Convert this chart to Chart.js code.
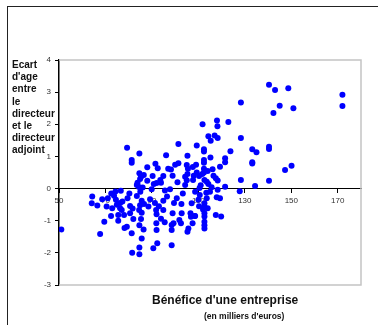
<!DOCTYPE html>
<html>
<head>
<meta charset="utf-8">
<script src="https://cdn.jsdelivr.net/npm/chart.js@4"></script>
<style>
  body { margin: 0; background: #fff; }
  #wrap { position: relative; width: 378px; height: 325px; overflow: hidden; }
  #frame { position: absolute; left: 7px; top: 6px; width: 400px; height: 400px;
           border-left: 1.5px solid #222; border-top: 1.5px solid #222; }
  #chart { position: absolute; left: 0; top: 0; }
  .ytitle { position: absolute; left: 12px; top: 59px; font: bold 10px Arial, "Liberation Sans", sans-serif;
            line-height: 12.2px; color: #111; }
  .xtitle { position: absolute; left: 152px; top: 293px; font: bold 12px Arial, "Liberation Sans", sans-serif; color: #111; }
  .xsub { position: absolute; left: 204px; top: 311px; font: bold 8.5px Arial, "Liberation Sans", sans-serif; color: #111; }
</style>
</head>
<body>
<div id="wrap">
  <div id="frame"></div>
  <canvas id="chart" width="378" height="325"></canvas>
  <div class="ytitle">Ecart<br>d'age<br>entre<br>le<br>directeur<br>et le<br>directeur<br>adjoint</div>
  <div class="xtitle">Bénéfice d'une entreprise</div>
  <div class="xsub">(en milliers d'euros)</div>
</div>
<script>
// Scatter data: profit (k€) vs age gap
const profit = [
  140.4, 143.0, 148.7, 172.0, 172.0, 145.0, 150.9, 142.3, 128.3,
  111.8, 118.0, 118.2, 122.9,
  114.3, 115.3, 117.0, 118.3, 128.3,
  101.4, 109.3, 112.4, 112.4, 123.8, 133.2, 135.0, 140.4, 140.4,
  79.3, 84.6, 81.3, 81.3, 96.1, 105.3, 115.2, 121.5, 121.5, 133.2, 133.2,
  147.3, 150.1,
  88.0, 91.5, 92.5, 98.2, 100.0, 101.4, 105.0, 105.5, 107.6, 109.0, 112.4, 112.4, 112.4, 112.4, 116.1, 119.3,
  84.6, 84.9, 83.8, 85.3, 90.3, 92.0, 93.6, 94.9, 98.9, 104.3, 105.0, 105.3, 107.7, 109.3, 110.3, 111.7,
  112.6, 113.6, 114.3, 115.7, 117.5, 118.3, 121.5, 128.3, 140.4, 134.4, 127.8, 104.3, 93.9, 83.5,
  76.6, 86.0, 89.9, 95.6, 97.8, 108.6, 110.5, 113.4, 118.3, 115.0,
  64.3, 64.1, 68.6, 70.5, 72.5, 73.7, 74.5, 72.9, 76.3, 77.3, 76.3, 77.0, 80.6, 80.6, 72.4, 75.5,
  78.0, 75.5, 69.5, 78.2, 79.2, 81.3, 51.0, 67.7, 81.5, 84.6, 84.6, 85.6, 86.4, 84.6,
  83.5, 85.6, 89.2, 94.9, 99.5, 102.7, 107.1, 81.7, 84.5, 88.5, 91.8, 94.9, 98.9, 101.8, 102.8, 106.8,
  82.0, 85.3, 91.9, 92.0, 93.9, 98.5, 98.5, 105.7, 90.6, 92.3, 98.5, 99.3, 102.5, 105.3, 107.5, 108.4, 106.6,
  112.6, 112.6, 114.0, 112.6, 112.6, 112.6, 112.6, 112.6, 117.5, 119.8, 108.6, 117.9, 119.3, 113.6, 110.6,
  84.4, 85.0, 86.6, 84.9, 85.6, 88.0, 90.8, 91.3, 93.0, 96.5, 100.7, 103.3, 101.0, 97.0, 86.5,
  92.0, 95.5, 110.3, 108.0, 111.0, 114.0, 116.5, 110.0, 112.0, 74.3, 79.5, 80.3, 66.5, 71.0, 74.9
];
const ageGap = [
  3.23, 3.07, 3.12, 2.92, 2.57, 2.58, 2.50, 2.35, 2.68,
  2.00, 2.12, 1.94, 2.07,
  1.63, 1.49, 1.65, 1.57, 1.57,
  1.39, 1.34, 1.22, 1.15, 1.16, 1.22, 1.13, 1.30, 1.23,
  1.27, 1.09, 0.89, 0.80, 1.04, 1.02, 0.97, 0.94, 0.82, 0.82, 0.78,
  0.58, 0.71,
  0.66, 0.77, 0.63, 0.59, 0.74, 0.79, 0.73, 0.62, 0.67, 0.74, 0.89, 0.80, 0.62, 0.50, 0.60, 0.68,
  0.48, 0.30, 0.18, 0.36, 0.39, 0.17, 0.27, 0.39, 0.40, 0.37, 0.26, 0.45, 0.27, 0.50, 0.39, 0.45,
  0.27, 0.21, 0.14, 0.04, 0.32, 0.25, 0.06, 0.27, 0.24, 0.08, -0.08, 0.11, 0.18, 0.11,
  -0.07, 0.03, -0.02, -0.06, -0.02, -0.10, 0.02, -0.13, -0.04, -0.10,
  -0.25, -0.46, -0.33, -0.56, -0.15, -0.22, -0.35, -0.61, -0.45, -0.40, -0.61, -0.67, -0.54, -0.77, -0.85, -0.82,
  -0.82, -1.00, -1.03, -1.23, -1.19, -1.39, -1.27, -1.41, -2.00, -2.04, -1.83, -1.55, -1.27, -1.14,
  -0.23, -0.38, -0.33, -0.38, -0.45, -0.48, -0.46, -0.62, -0.67, -0.56, -0.67, -0.67, -0.77, -0.98, -0.77, -0.88,
  -0.95, -0.95, -1.08, -1.29, -0.94, -1.13, -1.29, -1.24, -1.86, -1.70, -1.76, -1.08, -1.08, -1.34, -1.08, -0.85, -0.77,
  -0.46, -0.56, -0.61, -0.77, -0.87, -1.03, -1.24, -1.14, -0.82, -0.87, -0.85, -0.27, -0.30, -0.30, -0.20,
  0.05, -0.10, -0.48, -0.52, -0.75, 0.24, 0.14, -0.45, -0.55, -0.25, -0.30, -0.15, 0.20, 0.62, 0.42,
  -0.80, -1.05, -0.55, 0.40, 0.10, 0.55, 0.40, -0.35, -0.65, -0.09, -0.30, -0.15, -0.53, -0.30, -0.50
];
const xTicks = [50, 70, 90, 110, 130, 150, 170];
const yTicks = [-3, -2, -1, 0, 1, 2, 3, 4];

const points = profit.map((x, i) => ({ x: x, y: ageGap[i] }));

// light grey frame on top, right and bottom of the plot area
const plotFrame = {
  id: 'plotFrame',
  beforeDatasetsDraw(chart) {
    const { ctx, chartArea: a } = chart;
    ctx.save();
    ctx.strokeStyle = '#c4c4c4';
    ctx.lineWidth = 1.5;
    ctx.beginPath();
    ctx.moveTo(a.left, a.top);
    ctx.lineTo(a.right, a.top);
    ctx.lineTo(a.right, a.bottom);
    ctx.lineTo(a.left, a.bottom);
    ctx.stroke();
    ctx.restore();
  }
};

const tickFont = { family: 'Arial, "Liberation Sans", sans-serif', size: 8 };

new Chart(document.getElementById('chart'), {
  type: 'scatter',
  data: {
    datasets: [{
      data: points,
      backgroundColor: '#0000ff',
      borderWidth: 0,
      pointRadius: 3,
      pointHoverRadius: 3
    }]
  },
  options: {
    responsive: false,
    animation: false,
    layout: { padding: { left: 0, top: 60, right: 17, bottom: 40 } },
    plugins: { legend: { display: false }, tooltip: { enabled: false } },
    scales: {
      x: {
        type: 'linear',
        position: { y: 0 },
        min: 50,
        max: 180,
        afterBuildTicks: axis => { axis.ticks = xTicks.map(v => ({ value: v })); },
        grid: { drawOnChartArea: false, drawTicks: true, tickLength: 4, color: '#000' },
        border: { color: '#000', width: 1 },
        ticks: { font: tickFont, color: '#333', padding: 3, maxRotation: 0 }
      },
      y: {
        type: 'linear',
        min: -3,
        max: 4,
        afterBuildTicks: axis => { axis.ticks = yTicks.map(v => ({ value: v })); },
        afterFit: axis => { axis.width = 59; },
        grid: { drawOnChartArea: false, drawTicks: true, tickLength: 4, color: '#000' },
        border: { color: '#000', width: 1.5 },
        ticks: { font: tickFont, color: '#333', padding: 4 }
      }
    }
  },
  plugins: [plotFrame]
});
</script>
</body>
</html>
